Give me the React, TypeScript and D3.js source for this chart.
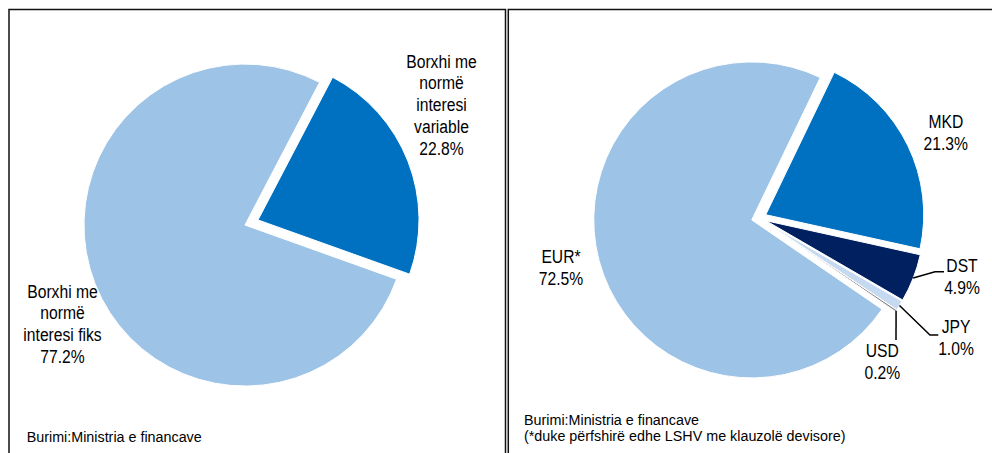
import React from "react";
import * as d3 from "d3";

// ---- Data ----
const leftCategories: string[][] = [
  ["Borxhi me", "normë", "interesi", "variable"],
  ["Borxhi me", "normë", "interesi fiks"],
];
const leftValues: number[] = [22.8, 77.2];
const leftColors: string[] = ["#0070C0", "#9DC3E6"];

const rightCategories: string[][] = [["MKD"], ["DST"], ["JPY"], ["USD"], ["EUR*"]];
const rightValues: number[] = [21.3, 4.9, 1.0, 0.2, 72.5];
const rightColors: string[] = ["#0070C0", "#002060", "#C5D9F1", "#7F7F7F", "#9DC3E6"];

const sourceText = "Burimi:Ministria e financave";
const noteText = "(*duke përfshirë edhe LSHV me klauzolë devisore)";

// ---- Layout ----
const W = 992;
const H = 453;
const FONT = "'Liberation Sans', Arial, sans-serif";
const FS = 18;
const SX = 0.87;
const LH = 22;

type LabelPos = { x: number; y: number; leader?: [number, number][] };

const leftLayout = { cx: 251.5, cy: 222.5, r: 161, explode: 7, start: 27.6 };
const rightLayout = { cx: 759, cy: 218, r: 158, explode: 7.5, start: 25.7 };

const leftLabelPos: LabelPos[] = [
  { x: 441.5, y: 67.5 },
  { x: 62.5, y: 297.5 },
];
const rightLabelPos: LabelPos[] = [
  { x: 945.8, y: 128.3 },
  { x: 962, y: 272, leader: [[935, 271.7], [944, 271.7]] },
  { x: 956, y: 333.3, leader: [[930, 335], [938.3, 335]] },
  { x: 882.3, y: 356.7, leader: [[896, 340]] },
  { x: 561, y: 263.3 },
];

function Label({ x, y, lines }: { x: number; y: number; lines: string[] }) {
  return (
    <g transform={`translate(${x},${y}) scale(${SX},1)`}>
      <text textAnchor="middle" fontFamily={FONT} fontSize={FS} fill="#000">
        {lines.map((l, i) => (
          <tspan key={i} x={0} y={i * LH}>
            {l}
          </tspan>
        ))}
      </text>
    </g>
  );
}

function Pie({
  values,
  categories,
  colors,
  layout,
  labels,
}: {
  values: number[];
  categories: string[][];
  colors: string[];
  layout: { cx: number; cy: number; r: number; explode: number; start: number };
  labels: LabelPos[];
}) {
  const s = (layout.start * Math.PI) / 180;
  const pie = d3
    .pie<number>()
    .sort(null)
    .value((d) => d)
    .startAngle(s)
    .endAngle(s + 2 * Math.PI);
  const arcs = pie(values);
  const arc = d3.arc<d3.PieArcDatum<number>>().innerRadius(0).outerRadius(layout.r);
  return (
    <g>
      {arcs.map((a, i) => {
        const mid = (a.startAngle + a.endAngle) / 2;
        const dx = layout.explode * Math.sin(mid);
        const dy = -layout.explode * Math.cos(mid);
        return (
          <path
            key={i}
            d={arc(a) || ""}
            transform={`translate(${layout.cx + dx},${layout.cy + dy})`}
            fill={colors[i]}
            stroke="#fff"
            strokeWidth={1}
          />
        );
      })}
      {arcs.map((a, i) => {
        const lp = labels[i];
        if (!lp.leader) return null;
        const mid = (a.startAngle + a.endAngle) / 2;
        const rr = layout.r + layout.explode;
        const p0: [number, number] = [layout.cx + rr * Math.sin(mid), layout.cy - rr * Math.cos(mid)];
        const pts = [p0, ...lp.leader];
        const line = d3.line();
        return <path key={"l" + i} d={line(pts) || ""} fill="none" stroke="#000" strokeWidth={1.5} />;
      })}
      {arcs.map((a, i) => (
        <Label
          key={"t" + i}
          x={labels[i].x}
          y={labels[i].y}
          lines={[...categories[i], `${values[i].toFixed(1)}%`]}
        />
      ))}
    </g>
  );
}

function Foot({ x, y, lines }: { x: number; y: number; lines: string[] }) {
  return (
    <g transform={`translate(${x},${y}) scale(0.955,1)`}>
      <text fontFamily={FONT} fontSize={15} fill="#000">
        {lines.map((l, i) => (
          <tspan key={i} x={0} y={i * 16.5}>
            {l}
          </tspan>
        ))}
      </text>
    </g>
  );
}

export default function App() {
  return (
    <div style={{ position: "absolute", left: 0, top: 0, width: W, height: H, background: "#fff" }}>
      <svg width={W} height={H} style={{ display: "block" }}>
        <rect x={0} y={0} width={W} height={H} fill="#fff" />
        <path d={`M9,${H + 5} V9.5 H505.5 V${H + 5}`} fill="none" stroke="#111" strokeWidth={1.5} />
        <path d={`M508.3,${H + 5} V9.5 H${W + 5}`} fill="none" stroke="#111" strokeWidth={1.5} />
        <Pie
          values={leftValues}
          categories={leftCategories}
          colors={leftColors}
          layout={leftLayout}
          labels={leftLabelPos}
        />
        <Pie
          values={rightValues}
          categories={rightCategories}
          colors={rightColors}
          layout={rightLayout}
          labels={rightLabelPos}
        />
        <Foot x={26.7} y={441.5} lines={[sourceText]} />
        <Foot x={524} y={425} lines={[sourceText, noteText]} />
      </svg>
    </div>
  );
}
